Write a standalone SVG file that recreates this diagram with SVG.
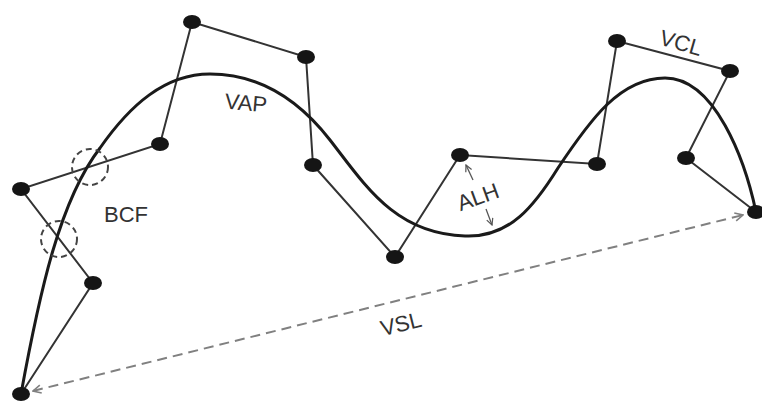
<svg xmlns="http://www.w3.org/2000/svg" width="762" height="402" viewBox="0 0 762 402">
<style>
.seg{fill:none;stroke:#333;stroke-width:2}
.curve{fill:none;stroke:#1a1a1a;stroke-width:3}
.dot{fill:#151515}
.lbl{font-family:"Liberation Sans",Arial,sans-serif;font-size:22px;fill:#333;text-anchor:middle;dominant-baseline:central}
.dash{fill:none;stroke:#808080;stroke-width:2;stroke-dasharray:10 6}
.circ{fill:none;stroke:#444;stroke-width:2;stroke-dasharray:6 4}
.thin{fill:none;stroke:#555;stroke-width:1.3}
</style>
<defs>
<marker id="ah" viewBox="0 0 10 10" refX="9" refY="5" markerWidth="10" markerHeight="10" markerUnits="userSpaceOnUse" orient="auto-start-reverse">
<path d="M1,1 L9,5 L1,9" fill="none" stroke="#808080" stroke-width="1.6"/>
</marker>
<marker id="ah2" viewBox="0 0 10 10" refX="9" refY="5" markerWidth="8" markerHeight="8" markerUnits="userSpaceOnUse" orient="auto">
<path d="M1,1 L9,5 L1,9" fill="none" stroke="#555" stroke-width="1.5"/>
</marker>
</defs>
<rect width="762" height="402" fill="#fff"/>
<g id="connectors">
<polyline class="seg" points="21,394 93,283 21,189 160,144 192,22 306,57 313,165 395,257 460,155 597,164 617,41 730,71 686,158 756,212"/>
<path id="VAP-curve" class="curve" d="M21,394 C40,290 60,200 100,148 C130,105 165,74 210,74 C255,74 295,95 330,140 C365,185 395,234 465,236 C510,238 535,205 558,168 C590,120 620,78 665,78 C715,78 745,160 756,212"/>
<line id="VSL-line" class="dash" x1="33" y1="391" x2="743" y2="215" marker-start="url(#ah)" marker-end="url(#ah)"/>
<line class="thin" x1="473" y1="180" x2="466" y2="165" marker-end="url(#ah2)"/>
<line class="thin" x1="486" y1="209" x2="492" y2="225" marker-end="url(#ah2)"/>
<circle class="circ" cx="90" cy="167" r="18"/>
<circle class="circ" cx="59" cy="239" r="18"/>
</g>
<g id="points">
<ellipse class="dot" cx="21" cy="394" rx="9" ry="7"/>
<ellipse class="dot" cx="93" cy="283" rx="9" ry="7"/>
<ellipse class="dot" cx="21" cy="189" rx="9" ry="7"/>
<ellipse class="dot" cx="160" cy="144" rx="9" ry="7"/>
<ellipse class="dot" cx="192" cy="22" rx="9" ry="7"/>
<ellipse class="dot" cx="306" cy="57" rx="9" ry="7"/>
<ellipse class="dot" cx="313" cy="165" rx="9" ry="7"/>
<ellipse class="dot" cx="395" cy="257" rx="9" ry="7"/>
<ellipse class="dot" cx="460" cy="155" rx="9" ry="7"/>
<ellipse class="dot" cx="597" cy="164" rx="9" ry="7"/>
<ellipse class="dot" cx="617" cy="41" rx="9" ry="7"/>
<ellipse class="dot" cx="730" cy="71" rx="9" ry="7"/>
<ellipse class="dot" cx="686" cy="158" rx="9" ry="7"/>
<ellipse class="dot" cx="756" cy="212" rx="9" ry="7"/>
</g>
<g id="labels">
<text id="VAP" class="lbl" transform="translate(246,103) rotate(5)">VAP</text>
<text id="BCF" class="lbl" x="126" y="214">BCF</text>
<text id="ALH" class="lbl" transform="translate(478,197) rotate(-20)">ALH</text>
<text id="VCL" class="lbl" transform="translate(681,43) rotate(16)">VCL</text>
<text id="VSL" class="lbl" transform="translate(401,324) rotate(-14)">VSL</text>
</g>
</svg>
